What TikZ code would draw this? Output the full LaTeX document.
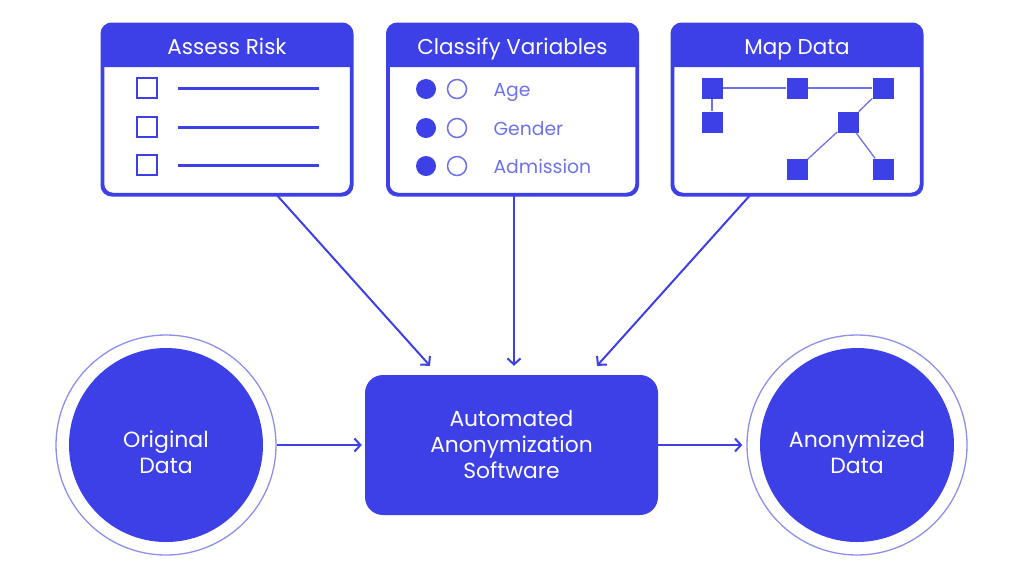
\documentclass[tikz,border=0pt]{standalone}
\usepackage{fontspec}
\setmainfont{Poppins}
\usetikzlibrary{arrows.meta}
\usetikzlibrary{positioning}
\definecolor{anonblue}{HTML}{3C40E6}
\definecolor{anonlight}{HTML}{6E72E8}
\definecolor{anonring}{HTML}{8C8FEC}
\tikzset{panel/.style = {draw=anonblue, line width=2.5pt, rounded corners=10pt,
                         minimum width=248pt, minimum height=169pt, inner sep=0pt}}
\tikzset{headtext/.style = {text=white, font=\fontsize{21.5}{24}\selectfont,
                            text height=15pt, text depth=4pt}}
\tikzset{itemtext/.style = {text=anonlight, font=\fontsize{18.8}{22}\selectfont, anchor=west,
                            text height=13.5pt, text depth=4pt}}
\tikzset{mapsq/.style = {fill=anonblue, minimum size=21pt, inner sep=0pt}}
\tikzset{maplink/.style = {draw=anonlight, line width=1.3pt}}
\tikzset{bigdot/.style = {circle, fill=anonblue, minimum size=194pt}}
\tikzset{dottext/.style = {text=white, align=center, font=\fontsize{22}{26}\selectfont}}
\tikzset{ring/.style = {circle, draw=anonring, line width=1.3pt, minimum size=220pt}}
\tikzset{flow/.style = {draw=anonblue, line width=2pt,
                        -{Straight Barb[length=6pt, width=13pt, line width=2pt]}}}

\begin{document}
\begin{tikzpicture}[x=1pt, y=-1pt]
  \useasboundingbox (0,0) rectangle (1024,582);

  % three input panels
  \node [panel] (risk) at (227,109.5) {};
  \node [panel] (classify) at (512.5,109.5) {};
  \node [panel] (map) at (797,109.5) {};
  \foreach \p in {risk, classify, map} {
    \fill [anonblue] (\p.west |- 0,67) {[rounded corners=10pt] -- (\p.north west)
      -- (\p.north east)} -- (\p.east |- 0,67) -- cycle;
    \draw [anonblue, line width=2.5pt, rounded corners=10pt]
      (\p.north west) rectangle (\p.south east);
  }
  \node [headtext] at (risk.north |- 0,48.5) {Assess Risk};
  \node [headtext] at (classify.north |- 0,48.5) {Classify Variables};
  \node [headtext] at (map.north |- 0,48.5) {Map Data};

  % checklist
  \foreach \y in {88,127,165} {
    \draw [anonblue, line width=2pt] (137,\y-10) rectangle (157,\y+10);
    \draw [anonblue, line width=3pt] (178,\y) -- (319,\y);
  }

  % variables
  \foreach \y/\t in {89/Age, 128/Gender, 166/Admission} {
    \fill [anonblue] (426,\y) circle (10pt);
    \draw [anonlight, line width=1.5pt] (457,\y) circle (9.5pt);
    \node [itemtext] at (490,\y+2.5) {\t};
  }

  % data map
  \node [mapsq] (m1) at (712,88) {};
  \node [mapsq] (m2) at (712,122) {};
  \node [mapsq] (m3) at (797,88) {};
  \node [mapsq] (m4) at (883,88) {};
  \node [mapsq] (m5) at (848,122) {};
  \node [mapsq] (m6) at (797,169) {};
  \node [mapsq] (m7) at (883,169) {};
  \draw [maplink] (m1) -- (m3) -- (m4);
  \draw [maplink] (m1) -- (m2);
  \draw [maplink] (m4) -- (m5);
  \draw [maplink] (m5) -- (m6);
  \draw [maplink] (m5) -- (m7);

  % main flow
  \node [fill=anonblue, rounded corners=18pt, minimum width=293pt, minimum height=140pt,
         text=white, align=center, font=\fontsize{21.8}{26}\selectfont]
        (soft) at (511.5,445) {Automated\\Anonymization\\Software};
  \node [bigdot] (orig) at (166,445) {};
  \node [dottext] at ([yshift=-7pt]orig.center) {Original\\Data};
  \node [ring] (origring) at (orig) {};
  \node [bigdot] (anon) at (857,445) {};
  \node [dottext] at ([yshift=-7pt]anon.center) {Anonymized\\Data};
  \node [ring] (anonring) at (anon) {};

  \draw [flow, shorten >=3pt] (origring.east) -- (soft.west);
  \draw [flow, shorten >=4pt] (soft.east) -- (anonring.west);
  \draw [flow] ([xshift=50pt]risk.south) -- ([xshift=-81.5pt, yshift=9pt]soft.north);
  \draw [flow] ([xshift=1.5pt]classify.south) -- ([xshift=2.5pt, yshift=9pt]soft.north);
  \draw [flow] ([xshift=-47pt]map.south) -- ([xshift=85.5pt, yshift=9pt]soft.north);
\end{tikzpicture}
\end{document}
